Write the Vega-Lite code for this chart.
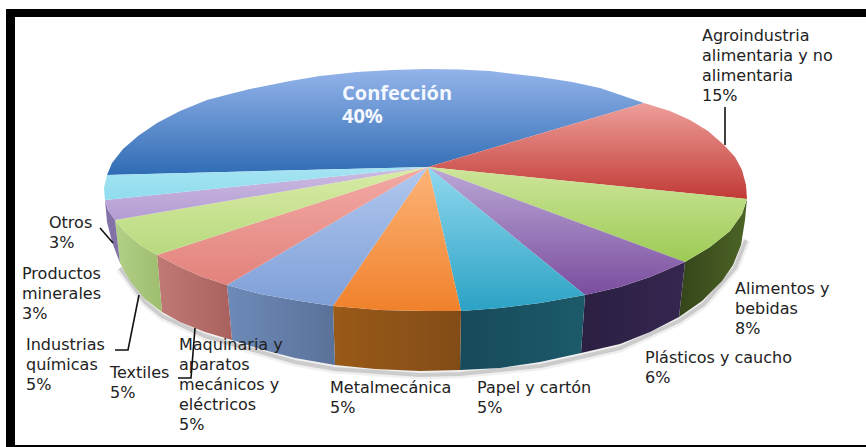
{"$schema":"https://vega.github.io/schema/vega-lite/v6.json","width":866,"height":447,"padding":0,"autosize":{"type":"none"},"background":"#ffffff","config":{"view":{"stroke":null}},
"datasets":{
"tops":[
{"s":"Confección","o":0,"x":428,"y":167},{"s":"Confección","o":1,"x":107,"y":175},{"s":"Confección","o":2,"x":112,"y":163},{"s":"Confección","o":3,"x":123,"y":149},{"s":"Confección","o":4,"x":138,"y":136},{"s":"Confección","o":5,"x":157,"y":123},{"s":"Confección","o":6,"x":180,"y":111},{"s":"Confección","o":7,"x":207,"y":100},{"s":"Confección","o":8,"x":230,"y":94},{"s":"Confección","o":9,"x":250,"y":89},{"s":"Confección","o":10,"x":290,"y":81},{"s":"Confección","o":11,"x":320,"y":76},{"s":"Confección","o":12,"x":357,"y":72},{"s":"Confección","o":13,"x":392,"y":70},{"s":"Confección","o":14,"x":426,"y":69},{"s":"Confección","o":15,"x":460,"y":69.5},{"s":"Confección","o":16,"x":490,"y":71},{"s":"Confección","o":17,"x":540,"y":77},{"s":"Confección","o":18,"x":572,"y":82},{"s":"Confección","o":19,"x":600,"y":88},{"s":"Confección","o":20,"x":644,"y":103},
{"s":"Agro","o":0,"x":428,"y":167},{"s":"Agro","o":1,"x":644,"y":103},{"s":"Agro","o":2,"x":670,"y":111},{"s":"Agro","o":3,"x":690,"y":120},{"s":"Agro","o":4,"x":708,"y":131},{"s":"Agro","o":5,"x":724,"y":145},{"s":"Agro","o":6,"x":735,"y":157},{"s":"Agro","o":7,"x":742,"y":170},{"s":"Agro","o":8,"x":746,"y":185},{"s":"Agro","o":9,"x":747,"y":199},
{"s":"Alimentos","o":0,"x":428,"y":167},{"s":"Alimentos","o":1,"x":747,"y":199},{"s":"Alimentos","o":2,"x":742,"y":214},{"s":"Alimentos","o":3,"x":730,"y":231},{"s":"Alimentos","o":4,"x":710,"y":247},{"s":"Alimentos","o":5,"x":685,"y":262},
{"s":"Plasticos","o":0,"x":428,"y":167},{"s":"Plasticos","o":1,"x":685,"y":262},{"s":"Plasticos","o":2,"x":650,"y":277},{"s":"Plasticos","o":3,"x":620,"y":287},{"s":"Plasticos","o":4,"x":585,"y":295},
{"s":"Papel","o":0,"x":428,"y":167},{"s":"Papel","o":1,"x":585,"y":295},{"s":"Papel","o":2,"x":540,"y":303},{"s":"Papel","o":3,"x":500,"y":308},{"s":"Papel","o":4,"x":461,"y":311},
{"s":"Metal","o":0,"x":428,"y":167},{"s":"Metal","o":1,"x":461,"y":311},{"s":"Metal","o":2,"x":426,"y":311},{"s":"Metal","o":3,"x":380,"y":310},{"s":"Metal","o":4,"x":333,"y":306},
{"s":"Maquinaria","o":0,"x":428,"y":167},{"s":"Maquinaria","o":1,"x":333,"y":306},{"s":"Maquinaria","o":2,"x":300,"y":301},{"s":"Maquinaria","o":3,"x":260,"y":294},{"s":"Maquinaria","o":4,"x":227,"y":285},
{"s":"Textiles","o":0,"x":428,"y":167},{"s":"Textiles","o":1,"x":227,"y":285},{"s":"Textiles","o":2,"x":200,"y":276},{"s":"Textiles","o":3,"x":178,"y":266},{"s":"Textiles","o":4,"x":157,"y":255},
{"s":"Industrias","o":0,"x":428,"y":167},{"s":"Industrias","o":1,"x":157,"y":255},{"s":"Industrias","o":2,"x":140,"y":245},{"s":"Industrias","o":3,"x":125,"y":232},{"s":"Industrias","o":4,"x":115,"y":220},
{"s":"Productos","o":0,"x":428,"y":167},{"s":"Productos","o":1,"x":115,"y":220},{"s":"Productos","o":2,"x":108,"y":210},{"s":"Productos","o":3,"x":105,"y":200},
{"s":"Otros","o":0,"x":428,"y":167},{"s":"Otros","o":1,"x":105,"y":200},{"s":"Otros","o":2,"x":104,"y":188},{"s":"Otros","o":3,"x":107,"y":175}
],
"sides":[
{"s":"a","o":0,"x":685,"y":262},{"s":"a","o":1,"x":710,"y":247},{"s":"a","o":2,"x":730,"y":231},{"s":"a","o":3,"x":742,"y":214},{"s":"a","o":4,"x":747,"y":199},{"s":"a","o":5,"x":745,"y":220},{"s":"a","o":6,"x":741,"y":245},{"s":"a","o":7,"x":733,"y":265},{"s":"a","o":8,"x":722,"y":281},{"s":"a","o":9,"x":702,"y":301},{"s":"a","o":10,"x":679,"y":317},
{"s":"b","o":0,"x":585,"y":295},{"s":"b","o":1,"x":620,"y":287},{"s":"b","o":2,"x":650,"y":277},{"s":"b","o":3,"x":685,"y":262},{"s":"b","o":4,"x":679,"y":317},{"s":"b","o":5,"x":650,"y":332},{"s":"b","o":6,"x":620,"y":344},{"s":"b","o":7,"x":581,"y":353},
{"s":"c","o":0,"x":461,"y":311},{"s":"c","o":1,"x":500,"y":308},{"s":"c","o":2,"x":540,"y":303},{"s":"c","o":3,"x":585,"y":295},{"s":"c","o":4,"x":581,"y":353},{"s":"c","o":5,"x":540,"y":362},{"s":"c","o":6,"x":500,"y":368},{"s":"c","o":7,"x":460,"y":370},
{"s":"d","o":0,"x":333,"y":306},{"s":"d","o":1,"x":380,"y":310},{"s":"d","o":2,"x":426,"y":311},{"s":"d","o":3,"x":461,"y":311},{"s":"d","o":4,"x":460,"y":370},{"s":"d","o":5,"x":420,"y":371},{"s":"d","o":6,"x":375,"y":369},{"s":"d","o":7,"x":335,"y":365},
{"s":"e","o":0,"x":227,"y":285},{"s":"e","o":1,"x":260,"y":294},{"s":"e","o":2,"x":300,"y":301},{"s":"e","o":3,"x":333,"y":306},{"s":"e","o":4,"x":335,"y":365},{"s":"e","o":5,"x":295,"y":358},{"s":"e","o":6,"x":260,"y":349},{"s":"e","o":7,"x":232,"y":340},
{"s":"f","o":0,"x":157,"y":255},{"s":"f","o":1,"x":178,"y":266},{"s":"f","o":2,"x":200,"y":276},{"s":"f","o":3,"x":227,"y":285},{"s":"f","o":4,"x":232,"y":340},{"s":"f","o":5,"x":205,"y":332},{"s":"f","o":6,"x":180,"y":322},{"s":"f","o":7,"x":162,"y":312},
{"s":"g","o":0,"x":115,"y":220},{"s":"g","o":1,"x":125,"y":232},{"s":"g","o":2,"x":140,"y":245},{"s":"g","o":3,"x":157,"y":255},{"s":"g","o":4,"x":162,"y":312},{"s":"g","o":5,"x":145,"y":299},{"s":"g","o":6,"x":130,"y":281},{"s":"g","o":7,"x":120,"y":263},
{"s":"h","o":0,"x":105,"y":200},{"s":"h","o":1,"x":108,"y":210},{"s":"h","o":2,"x":115,"y":220},{"s":"h","o":3,"x":120,"y":263},{"s":"h","o":4,"x":112,"y":242},{"s":"h","o":5,"x":107,"y":222}
],
"shadow":[{"o":0,"x":120,"y":268},{"o":1,"x":145,"y":302},{"o":2,"x":162,"y":316},{"o":3,"x":205,"y":336},{"o":4,"x":232,"y":344},{"o":5,"x":295,"y":362},{"o":6,"x":335,"y":369},{"o":7,"x":420,"y":375},{"o":8,"x":460,"y":374},{"o":9,"x":540,"y":366},{"o":10,"x":581,"y":357},{"o":11,"x":620,"y":348},{"o":12,"x":679,"y":321},{"o":13,"x":704,"y":304},{"o":14,"x":735,"y":268},{"o":15,"x":746,"y":240}],
"leaders":[
{"l":"otros","o":0,"x":100,"y":228},{"l":"otros","o":1,"x":113,"y":243},
{"l":"ind","o":0,"x":139,"y":295},{"l":"ind","o":1,"x":128,"y":350},{"l":"ind","o":2,"x":115,"y":350},
{"l":"maq","o":0,"x":195,"y":328},{"l":"maq","o":1,"x":191,"y":378},{"l":"maq","o":2,"x":178,"y":378},
{"l":"agro","o":0,"x":725,"y":107},{"l":"agro","o":1,"x":725,"y":145}
],
"frame":[{"x":6,"x2":866,"y":9,"y2":17},{"x":6,"x2":15,"y":9,"y2":447},{"x":6,"x2":866,"y":445,"y2":447}],
"labels":[
{"t":"Agroindustria\nalimentaria y no\nalimentaria\n15%","x":702,"y":28},
{"t":"Otros\n3%","x":49,"y":215},
{"t":"Productos\nminerales\n3%","x":22,"y":266},
{"t":"Industrias\nquímicas\n5%","x":26,"y":337},
{"t":"Textiles\n5%","x":110,"y":365},
{"t":"Maquinaria y\naparatos\nmecánicos y\neléctricos\n5%","x":179,"y":337},
{"t":"Metalmecánica\n5%","x":330,"y":380},
{"t":"Papel y cartón\n5%","x":477,"y":380},
{"t":"Plásticos y caucho\n6%","x":645,"y":350},
{"t":"Alimentos y\nbebidas\n8%","x":735,"y":281}
],
"title":[{"t":"Confección\n40%","x":342,"y":84}]
},
"encoding":{"x":{"field":"x","type":"quantitative","scale":{"domain":[0,866],"nice":false,"zero":false},"axis":null},"y":{"field":"y","type":"quantitative","scale":{"domain":[447,0],"nice":false,"zero":false},"axis":null}},
"layer":[
{"data":{"name":"shadow"},"mark":{"type":"line","stroke":"#000000","strokeWidth":9,"opacity":0.06},"encoding":{"order":{"field":"o"}}},
{"data":{"name":"shadow"},"mark":{"type":"line","stroke":"#000000","strokeWidth":4,"opacity":0.15},"encoding":{"order":{"field":"o"}}},
{"data":{"name":"sides"},"transform":[{"filter":"datum.s==='a'"}],"mark":{"type":"line","filled":true,"fill":{"gradient":"linear","x1":0,"y1":0,"x2":1,"y2":0,"stops":[{"offset":0,"color":"#35451a"},{"offset":1,"color":"#4c6426"}]},"stroke":null},"encoding":{"order":{"field":"o"}}},
{"data":{"name":"sides"},"transform":[{"filter":"datum.s==='b'"}],"mark":{"type":"line","filled":true,"fill":{"gradient":"linear","x1":0,"y1":0,"x2":1,"y2":0,"stops":[{"offset":0,"color":"#2b1f42"},{"offset":1,"color":"#35264f"}]},"stroke":null},"encoding":{"order":{"field":"o"}}},
{"data":{"name":"sides"},"transform":[{"filter":"datum.s==='c'"}],"mark":{"type":"line","filled":true,"fill":{"gradient":"linear","x1":0,"y1":0,"x2":1,"y2":0,"stops":[{"offset":0,"color":"#174a5a"},{"offset":1,"color":"#1c5a6a"}]},"stroke":null},"encoding":{"order":{"field":"o"}}},
{"data":{"name":"sides"},"transform":[{"filter":"datum.s==='d'"}],"mark":{"type":"line","filled":true,"fill":{"gradient":"linear","x1":0,"y1":0,"x2":1,"y2":0,"stops":[{"offset":0,"color":"#9a5a18"},{"offset":1,"color":"#824c17"}]},"stroke":null},"encoding":{"order":{"field":"o"}}},
{"data":{"name":"sides"},"transform":[{"filter":"datum.s==='e'"}],"mark":{"type":"line","filled":true,"fill":{"gradient":"linear","x1":0,"y1":0,"x2":1,"y2":0,"stops":[{"offset":0,"color":"#6d8ab8"},{"offset":1,"color":"#5a7299"}]},"stroke":null},"encoding":{"order":{"field":"o"}}},
{"data":{"name":"sides"},"transform":[{"filter":"datum.s==='f'"}],"mark":{"type":"line","filled":true,"fill":{"gradient":"linear","x1":0,"y1":0,"x2":1,"y2":0,"stops":[{"offset":0,"color":"#c07a76"},{"offset":1,"color":"#a9615e"}]},"stroke":null},"encoding":{"order":{"field":"o"}}},
{"data":{"name":"sides"},"transform":[{"filter":"datum.s==='g'"}],"mark":{"type":"line","filled":true,"fill":{"gradient":"linear","x1":0,"y1":0,"x2":1,"y2":0,"stops":[{"offset":0,"color":"#b2d088"},{"offset":1,"color":"#9ebd6e"}]},"stroke":null},"encoding":{"order":{"field":"o"}}},
{"data":{"name":"sides"},"transform":[{"filter":"datum.s==='h'"}],"mark":{"type":"line","filled":true,"fill":"#8372a8","stroke":null},"encoding":{"order":{"field":"o"}}},
{"data":{"name":"tops"},"transform":[{"filter":"datum.s==='Confección'"}],"mark":{"type":"line","filled":true,"fill":{"gradient":"linear","x1":0,"y1":0,"x2":0,"y2":1,"stops":[{"offset":0,"color":"#94b4ea"},{"offset":1,"color":"#2f6cb4"}]},"stroke":null},"encoding":{"order":{"field":"o"}}},
{"data":{"name":"tops"},"transform":[{"filter":"datum.s==='Agro'"}],"mark":{"type":"line","filled":true,"fill":{"gradient":"linear","x1":0,"y1":0,"x2":0,"y2":1,"stops":[{"offset":0,"color":"#ee9f9a"},{"offset":1,"color":"#c13a36"}]},"stroke":null},"encoding":{"order":{"field":"o"}}},
{"data":{"name":"tops"},"transform":[{"filter":"datum.s==='Alimentos'"}],"mark":{"type":"line","filled":true,"fill":{"gradient":"linear","x1":0,"y1":0,"x2":0,"y2":1,"stops":[{"offset":0,"color":"#cde59a"},{"offset":1,"color":"#9dcb55"}]},"stroke":null},"encoding":{"order":{"field":"o"}}},
{"data":{"name":"tops"},"transform":[{"filter":"datum.s==='Plasticos'"}],"mark":{"type":"line","filled":true,"fill":{"gradient":"linear","x1":0,"y1":0,"x2":0,"y2":1,"stops":[{"offset":0,"color":"#bba8d6"},{"offset":1,"color":"#7a4d9e"}]},"stroke":null},"encoding":{"order":{"field":"o"}}},
{"data":{"name":"tops"},"transform":[{"filter":"datum.s==='Papel'"}],"mark":{"type":"line","filled":true,"fill":{"gradient":"linear","x1":0,"y1":0,"x2":0,"y2":1,"stops":[{"offset":0,"color":"#90d8ee"},{"offset":1,"color":"#2ba2c5"}]},"stroke":null},"encoding":{"order":{"field":"o"}}},
{"data":{"name":"tops"},"transform":[{"filter":"datum.s==='Metal'"}],"mark":{"type":"line","filled":true,"fill":{"gradient":"linear","x1":0,"y1":0,"x2":0,"y2":1,"stops":[{"offset":0,"color":"#fcb478"},{"offset":1,"color":"#f0812b"}]},"stroke":null},"encoding":{"order":{"field":"o"}}},
{"data":{"name":"tops"},"transform":[{"filter":"datum.s==='Maquinaria'"}],"mark":{"type":"line","filled":true,"fill":{"gradient":"linear","x1":0,"y1":0,"x2":0,"y2":1,"stops":[{"offset":0,"color":"#b0c8ee"},{"offset":1,"color":"#7f9fd8"}]},"stroke":null},"encoding":{"order":{"field":"o"}}},
{"data":{"name":"tops"},"transform":[{"filter":"datum.s==='Textiles'"}],"mark":{"type":"line","filled":true,"fill":{"gradient":"linear","x1":0,"y1":0,"x2":0,"y2":1,"stops":[{"offset":0,"color":"#f2aaa5"},{"offset":1,"color":"#e3827c"}]},"stroke":null},"encoding":{"order":{"field":"o"}}},
{"data":{"name":"tops"},"transform":[{"filter":"datum.s==='Industrias'"}],"mark":{"type":"line","filled":true,"fill":{"gradient":"linear","x1":0,"y1":0,"x2":0,"y2":1,"stops":[{"offset":0,"color":"#d8eba6"},{"offset":1,"color":"#b8d97e"}]},"stroke":null},"encoding":{"order":{"field":"o"}}},
{"data":{"name":"tops"},"transform":[{"filter":"datum.s==='Productos'"}],"mark":{"type":"line","filled":true,"fill":{"gradient":"linear","x1":0,"y1":0,"x2":0,"y2":1,"stops":[{"offset":0,"color":"#ccbce2"},{"offset":1,"color":"#b49cd2"}]},"stroke":null},"encoding":{"order":{"field":"o"}}},
{"data":{"name":"tops"},"transform":[{"filter":"datum.s==='Otros'"}],"mark":{"type":"line","filled":true,"fill":{"gradient":"linear","x1":0,"y1":0,"x2":0,"y2":1,"stops":[{"offset":0,"color":"#a6e4f3"},{"offset":1,"color":"#8fdcee"}]},"stroke":null},"encoding":{"order":{"field":"o"}}},
{"data":{"name":"frame"},"mark":{"type":"rect","fill":"#000000"},"encoding":{"x2":{"field":"x2"},"y2":{"field":"y2"}}},
{"data":{"name":"labels"},"mark":{"type":"text","align":"left","baseline":"top","font":"DejaVu Sans","fontSize":16,"lineHeight":20,"lineBreak":"\n","fill":"#222222"},"encoding":{"text":{"field":"t"}}},
{"data":{"name":"leaders"},"mark":{"type":"line","stroke":"#111111","strokeWidth":1.6},"encoding":{"detail":{"field":"l"},"order":{"field":"o"}}},
{"data":{"name":"title"},"mark":{"type":"text","align":"left","baseline":"top","font":"Open Sans","fontSize":20,"fontWeight":"bold","lineHeight":23,"lineBreak":"\n","fill":"#f4f8ff"},"encoding":{"text":{"field":"t"}}}
]}
